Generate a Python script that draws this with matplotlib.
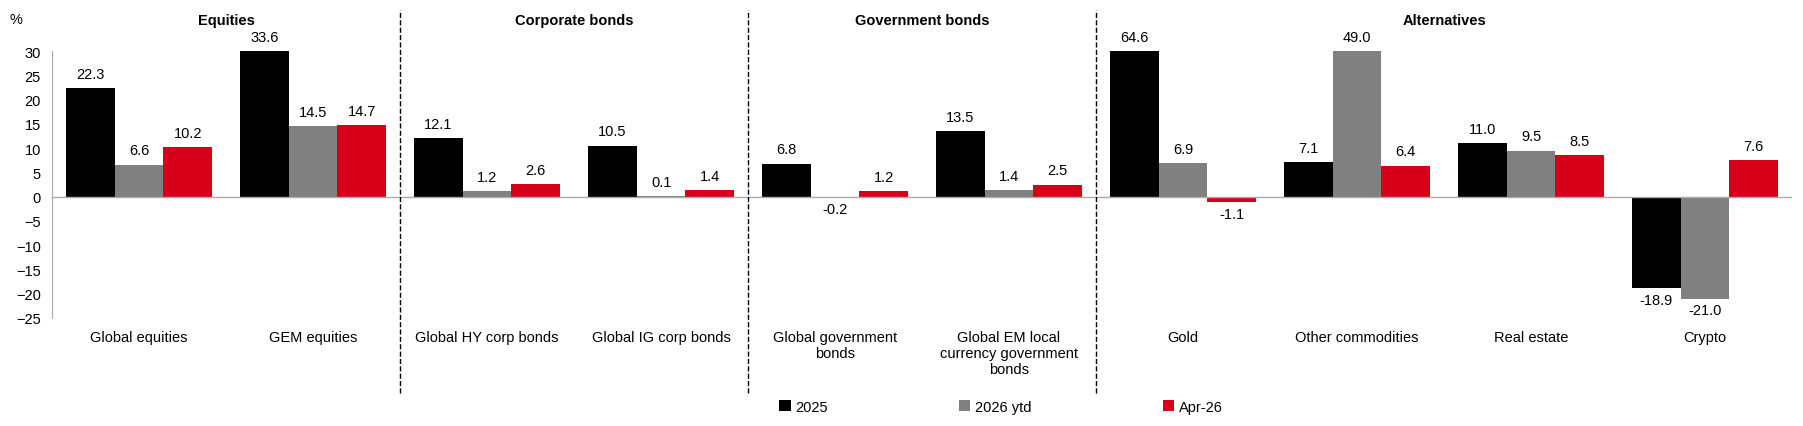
import numpy as np
import matplotlib.pyplot as plt
from matplotlib.lines import Line2D

plt.rcParams['font.family'] = ['Liberation Sans', 'DejaVu Sans']

categories = ['Global equities', 'GEM equities', 'Global HY corp bonds', 'Global IG corp bonds',
              'Global government\nbonds', 'Global EM local\ncurrency government\nbonds',
              'Gold', 'Other commodities', 'Real estate', 'Crypto']
y2025 = [22.3, 33.6, 12.1, 10.5, 6.8, 13.5, 64.6, 7.1, 11.0, -18.9]
y2026 = [6.6, 14.5, 1.2, 0.1, -0.2, 1.4, 6.9, 49.0, 9.5, -21.0]
apr26 = [10.2, 14.7, 2.6, 1.4, 1.2, 2.5, -1.1, 6.4, 8.5, 7.6]
groups = ['Equities', 'Corporate bonds', 'Government bonds', 'Alternatives']
group_spans = [(0, 1), (2, 3), (4, 5), (6, 9)]

series = [('2025', y2025, '#000000'), ('2026 ytd', y2026, '#808080'), ('Apr-26', apr26, '#d7001b')]
CAP = 30

fig = plt.figure(figsize=(18.03, 4.27), dpi=100)
ax = fig.add_axes([0.0289, 0.253, 0.965, 0.625])
x = np.arange(len(categories))
w = 0.28
for i, (name, vals, col) in enumerate(series):
    pos = x + (i - 1) * w
    shown = np.clip(vals, None, CAP)
    ax.bar(pos, shown, w, color=col, label=name)
    for p, v, s in zip(pos, vals, shown):
        if v >= 0:
            ax.text(p, s + 1.5, f'{v:.1f}', ha='center', va='bottom', fontsize=10.5)
        else:
            ax.text(p, s - 1.0, f'{v:.1f}', ha='center', va='top', fontsize=10.5)

ax.set_xlim(-0.5, len(categories) - 0.5)
ax.set_ylim(-25, 30)
ax.set_yticks(range(-25, 31, 5))
ax.tick_params(axis='y', length=0, labelsize=10.5, pad=8)
ax.set_xticks([])
ax.axhline(0, color='#aaaaaa', lw=1)
for s in ['top', 'right', 'bottom']:
    ax.spines[s].set_visible(False)
ax.spines['left'].set_color('#aaaaaa')

for i, c in enumerate(categories):
    ax.text(i, -27.5, c, ha='center', va='top', fontsize=10.5)

for sep in [1.5, 3.5, 5.5]:
    ax.add_line(Line2D([sep, sep], [-40.5, 38.5], color='black', lw=1, ls='--', clip_on=False))

for g, (a, b) in zip(groups, group_spans):
    ax.text((a + b) / 2, 36.5, g, ha='center', va='center', fontsize=10.5, fontweight='bold')
fig.text(0.005, 0.953, '%', fontsize=10.5, va='center')

ax.legend(loc='center', bbox_to_anchor=(0.555, 0.045), bbox_transform=fig.transFigure,
          ncol=3, frameon=False, fontsize=10.5, handlelength=0.8, handleheight=0.8,
          handletextpad=0.3, columnspacing=9)

plt.savefig('out.png', dpi=100, facecolor='white')
